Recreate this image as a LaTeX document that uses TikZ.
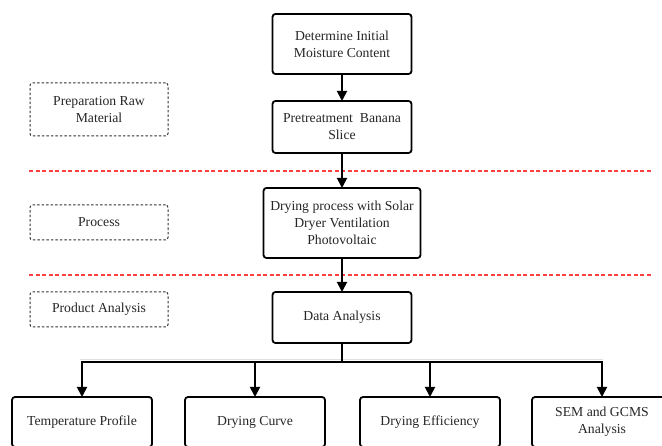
\documentclass[tikz,border=0pt]{standalone}
\usepackage{fontspec}
\setmainfont{Liberation Serif}
\usetikzlibrary{arrows.meta}
\begin{document}
\begin{tikzpicture}[x=1pt,y=-1pt,
  box/.style={draw=black, line width=1.8pt, rounded corners=3pt, align=center,
    inner sep=2pt, outer sep=0pt, font=\fontsize{13.7}{17}\selectfont, text=black!85},
  tag/.style={draw=black!80, line width=1pt, dash pattern=on 2.5pt off 2pt,
    rounded corners=2.5pt, align=center, inner sep=2pt, outer sep=0pt,
    minimum width=138pt, font=\fontsize{13.7}{17}\selectfont, text=black!85},
  arr/.style={-{Triangle[length=10pt,width=10pt]}, line width=1.8pt},
  sep/.style={draw=red!75, line width=1.6pt, dash pattern=on 4pt off 2.5pt}]
\useasboundingbox (0,0) rectangle (662,446);
\clip (0,0) rectangle (662,446);

% main flow
\node[box, minimum width=139pt, minimum height=60pt] (n1) at (342,44) {Determine Initial\\Moisture Content};
\node[box, minimum width=139pt, minimum height=52pt] (n2) at (342,127) {Pretreatment~ Banana\\Slice};
\node[box, minimum width=157pt, minimum height=70pt] (n3) at (342,223) {Drying process with Solar\\Dryer Ventilation\\Photovoltaic};
\node[box, minimum width=139pt, minimum height=51pt] (n4) at (342,317.5) {Data Analysis};

% bottom boxes
\node[box, minimum width=140pt, minimum height=50pt] (b1) at (82,422) {Temperature Profile};
\node[box, minimum width=140pt, minimum height=50pt] (b2) at (255,422) {Drying Curve};
\node[box, minimum width=140pt, minimum height=50pt] (b3) at (430,422) {Drying Efficiency};
\node[box, minimum width=140pt, minimum height=50pt] (b4) at (602,422) {SEM and GCMS\\Analysis};

% stage tags
\node[tag, minimum height=53pt] (t1) at (99,109.5) {Preparation Raw\\Material};
\node[tag, minimum height=35pt] (t2) at (99,222.5) {Process};
\node[tag, minimum height=35pt] (t3) at (99,309.5) {Product Analysis};

% separators
\coordinate (s1a) at (29,171);
\coordinate (s1b) at (651,171);
\coordinate (s2a) at (29,275);
\coordinate (s2b) at (651,275);
\draw[sep] (s1a) -- (s1b);
\draw[sep] (s2a) -- (s2b);

% faint guide line
\coordinate (g1) at (80,359);
\coordinate (g2) at (603,359);
\draw[black!12, line width=0.6pt] (g1) -- (g2);

% connectors
\draw[arr] (n1) -- (n2);
\draw[arr] (n2) -- (n3);
\draw[arr] (n3.south) -- (n3.south |- n4.north);
\coordinate (hub) at (342,362);
\draw[line width=1.8pt] (n4.south) -- (hub);
\draw[arr] (hub) -| (b1.north);
\draw[arr] (hub) -| (b2.north);
\draw[arr] (hub) -| (b3.north);
\draw[arr] (hub) -| (b4.north);
\end{tikzpicture}
\end{document}
